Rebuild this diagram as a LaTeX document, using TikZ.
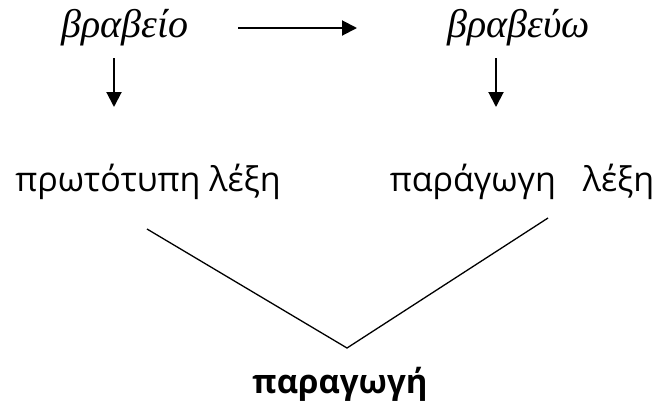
\documentclass[tikz,border=0pt]{standalone}
\usepackage{fontspec}
\setmainfont{Liberation Serif}
\newfontfamily\wordfont{Open Sans}
\usetikzlibrary{arrows.meta,positioning,calc}

\begin{document}
\begin{tikzpicture}[x=1pt, y=-1pt,
    topword/.style={font=\fontsize{40}{44}\selectfont\itshape, inner sep=0pt},
    word/.style={font=\fontsize{34}{38}\selectfont\wordfont, inner sep=0pt},
    arr/.style={-{Triangle[length=15pt, width=15pt]}, line width=2pt}]
    \useasboundingbox (0,0) rectangle (659,400);
    \node[topword] (vraveio) at (125,28) {βραβείο};
    \node[topword] (vravevo) at (519,28) {βραβεύω};
    \node[word] (protypi) at (148,182) {πρωτότυπη λέξη};
    \node[word] (paragogilexi) at (522,182) {παράγωγη\hspace{27pt}λέξη};
    \node[font=\fontsize{33}{38}\selectfont\wordfont\bfseries, inner sep=0pt] (paragogi) at (340,384) {παραγωγή};
    % arrows
    \coordinate (hstart) at (238,28);
    \coordinate (hend) at (357,28);
    \draw[arr] (hstart) -- (hend);
    \coordinate (lstart) at (114,58);
    \coordinate (lend) at (114,107);
    \draw[arr] (lstart) -- (lend);
    \coordinate (rstart) at (496,58);
    \coordinate (rend) at (496,107);
    \draw[arr] (rstart) -- (rend);
    % the two lines that meet above the last word
    \coordinate (vleft) at (147,229);
    \coordinate (apex) at (347,348);
    \coordinate (vright) at (548,218);
    \draw[line width=1.3pt] (vleft) -- (apex) -- (vright);
\end{tikzpicture}
\end{document}
